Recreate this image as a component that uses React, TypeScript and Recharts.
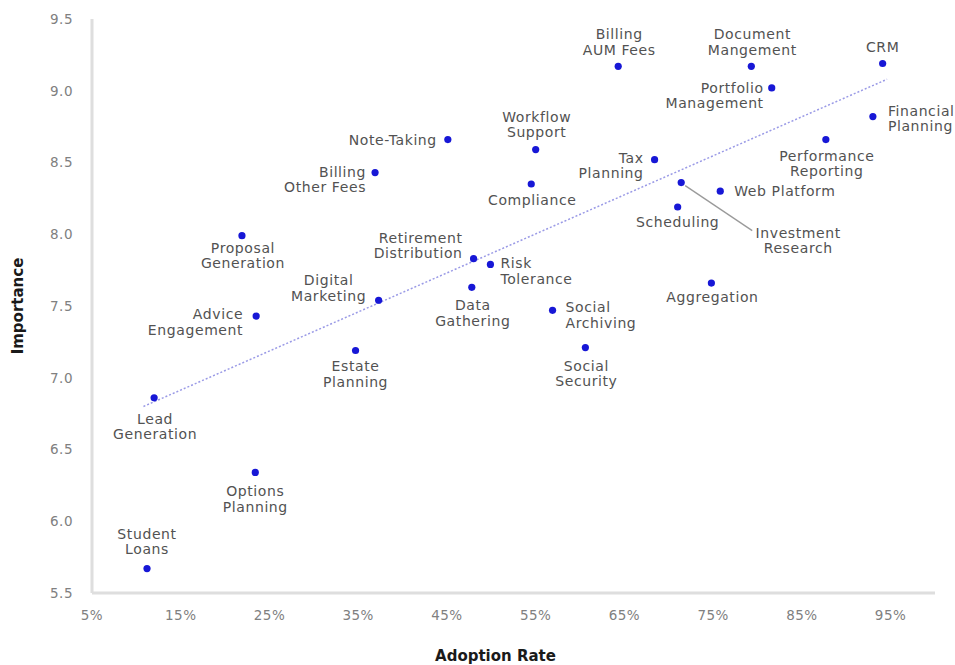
import React from 'react';
import { ScatterChart, Scatter, XAxis, YAxis, ReferenceLine } from 'recharts';

const names = [
  'CRM', 'Financial\nPlanning', 'Performance\nReporting', 'Document\nMangement', 'Portfolio\nManagement',
  'Billing\nAUM Fees', 'Tax\nPlanning', 'Investment\nResearch', 'Web Platform', 'Scheduling',
  'Aggregation', 'Workflow\nSupport', 'Compliance', 'Note-Taking', 'Billing\nOther Fees',
  'Retirement\nDistribution', 'Risk\nTolerance', 'Data\nGathering', 'Digital\nMarketing', 'Social\nArchiving',
  'Social\nSecurity', 'Estate\nPlanning', 'Proposal\nGeneration', 'Advice\nEngagement', 'Lead\nGeneration',
  'Options\nPlanning', 'Student\nLoans',
];
const adoption = [
  94.1, 93.0, 87.7, 79.3, 81.6,
  64.3, 68.4, 71.4, 75.8, 71.0,
  74.8, 55.0, 54.5, 45.1, 36.9,
  48.0, 49.9, 47.8, 37.3, 56.9,
  60.6, 34.7, 21.9, 23.5, 12.0,
  23.4, 11.2,
];
const importance = [
  9.19, 8.82, 8.66, 9.17, 9.02,
  9.17, 8.52, 8.36, 8.30, 8.19,
  7.66, 8.59, 8.35, 8.66, 8.43,
  7.83, 7.79, 7.63, 7.54, 7.47,
  7.21, 7.19, 7.99, 7.43, 6.86,
  6.34, 5.67,
];
const xTicks = [5, 15, 25, 35, 45, 55, 65, 75, 85, 95];
const yTicks = [5.5, 6.0, 6.5, 7.0, 7.5, 8.0, 8.5, 9.0, 9.5];
const trendX = [10.8, 94.6];
const trendY = [6.8, 9.08];

type Place = { anchor: 'start' | 'middle' | 'end'; dx: number; dy: number; leader?: [number, number] };
const placement: Record<string, Place> = {
  'CRM': { anchor: 'middle', dx: 0, dy: -16 },
  'Financial\nPlanning': { anchor: 'start', dx: 15, dy: -6 },
  'Performance\nReporting': { anchor: 'middle', dx: 1, dy: 16 },
  'Document\nMangement': { anchor: 'middle', dx: 1, dy: -32 },
  'Portfolio\nManagement': { anchor: 'end', dx: -8, dy: 0 },
  'Billing\nAUM Fees': { anchor: 'middle', dx: 1, dy: -32 },
  'Tax\nPlanning': { anchor: 'end', dx: -11, dy: -2 },
  'Investment\nResearch': { anchor: 'middle', dx: 117, dy: 50, leader: [71, 48] },
  'Web Platform': { anchor: 'start', dx: 14, dy: 0 },
  'Scheduling': { anchor: 'middle', dx: 0, dy: 15 },
  'Aggregation': { anchor: 'middle', dx: 1, dy: 14 },
  'Workflow\nSupport': { anchor: 'middle', dx: 1, dy: -33 },
  'Compliance': { anchor: 'middle', dx: 1, dy: 16 },
  'Note-Taking': { anchor: 'end', dx: -11, dy: 0 },
  'Billing\nOther Fees': { anchor: 'end', dx: -9, dy: -1 },
  'Retirement\nDistribution': { anchor: 'end', dx: -11, dy: -21 },
  'Risk\nTolerance': { anchor: 'start', dx: 10, dy: -1 },
  'Data\nGathering': { anchor: 'middle', dx: 1, dy: 18 },
  'Digital\nMarketing': { anchor: 'middle', dx: -50, dy: -20 },
  'Social\nArchiving': { anchor: 'start', dx: 13, dy: -3 },
  'Social\nSecurity': { anchor: 'middle', dx: 1, dy: 18 },
  'Estate\nPlanning': { anchor: 'middle', dx: 0, dy: 16 },
  'Proposal\nGeneration': { anchor: 'middle', dx: 1, dy: 12 },
  'Advice\nEngagement': { anchor: 'end', dx: -13, dy: -2 },
  'Lead\nGeneration': { anchor: 'middle', dx: 1, dy: 21 },
  'Options\nPlanning': { anchor: 'middle', dx: 0, dy: 19 },
  'Student\nLoans': { anchor: 'middle', dx: 0, dy: -35 },
};

const data = names.map((name, i) => ({ name, x: adoption[i], y: importance[i] }));

const FONT = '"DejaVu Sans", sans-serif';
const LINE_H = 15.5;

const renderPoint = (props: any) => {
  const { cx, cy, payload } = props;
  const p = placement[payload.name] || { anchor: 'start', dx: 8, dy: 0 };
  const lines: string[] = payload.name.split('\n');
  const tx = cx + p.dx;
  const ty = cy + p.dy + 5;
  return (
    <g>
      {p.leader && (
        <line x1={cx + 4} y1={cy + 3} x2={cx + p.leader[0]} y2={cy + p.leader[1]} stroke="#9a9a9a" strokeWidth={1.3} />
      )}
      <circle cx={cx} cy={cy} r={3.6} fill="#1717d6" />
      <text x={tx} y={ty} textAnchor={p.anchor} fontFamily={FONT} fontSize={14} letterSpacing={0.6} fill="#525252">
        {lines.map((l, i) => (
          <tspan key={i} x={tx} dy={i === 0 ? 0 : LINE_H}>{l}</tspan>
        ))}
      </text>
    </g>
  );
};

export default function App() {
  return (
    <div style={{ position: 'absolute', left: 0, top: 0, background: '#fff' }}>
      <ScatterChart width={955} height={665} margin={{ top: 19, right: 20, bottom: 0, left: 0 }}>
        <XAxis
          type="number"
          dataKey="x"
          domain={[5, 100]}
          ticks={xTicks}
          tickFormatter={(v: number) => `${v}%`}
          height={72}
          tickLine={false}
          tickMargin={11}
          axisLine={{ stroke: '#dedede', strokeWidth: 3 }}
          tick={{ fill: '#808080', fontSize: 13.5, fontFamily: FONT, letterSpacing: 0.5 }}
          label={{ value: 'Adoption Rate', position: 'insideBottom', offset: 4, dx: -18, style: { fontWeight: 'bold', fontSize: 15, fill: '#1a1a1a', fontFamily: FONT } }}
        />
        <YAxis
          type="number"
          dataKey="y"
          domain={[5.5, 9.5]}
          ticks={yTicks}
          tickFormatter={(v: number) => v.toFixed(1)}
          width={92}
          tickLine={false}
          tickMargin={13}
          axisLine={{ stroke: '#dedede', strokeWidth: 3 }}
          tick={{ fill: '#808080', fontSize: 13.5, fontFamily: FONT, letterSpacing: 0.5 }}
          label={{ value: 'Importance', angle: -90, position: 'insideLeft', offset: 18, style: { textAnchor: 'middle', fontWeight: 'bold', fontSize: 15, fill: '#1a1a1a', fontFamily: FONT } }}
        />
        <ReferenceLine
          segment={[{ x: trendX[0], y: trendY[0] }, { x: trendX[1], y: trendY[1] }]}
          stroke="#9a9ae6"
          strokeWidth={1.5}
          strokeDasharray="2 2"
          ifOverflow="visible"
        />
        <Scatter data={data} shape={renderPoint} isAnimationActive={false} />
      </ScatterChart>
    </div>
  );
}
